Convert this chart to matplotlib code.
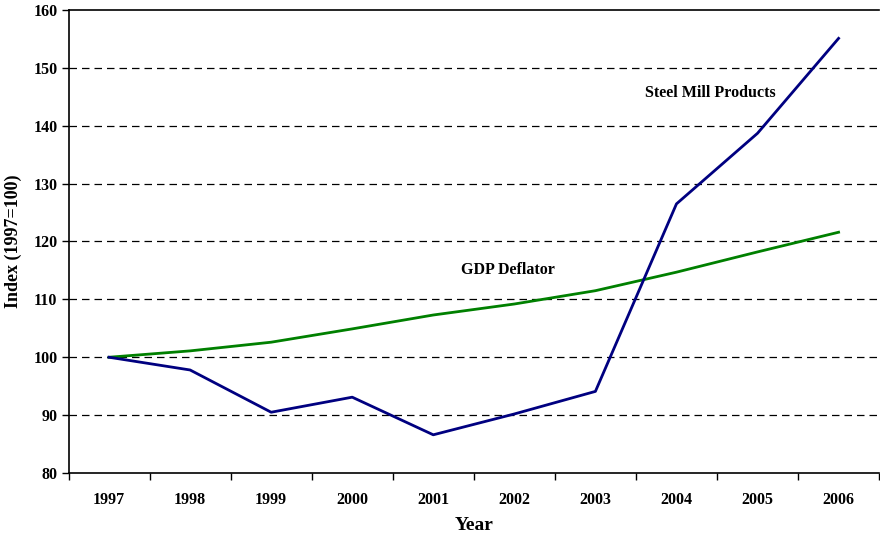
import matplotlib
matplotlib.use("Agg")
import matplotlib.pyplot as plt
import numpy as np

years = ["1997", "1998", "1999", "2000", "2001", "2002", "2003", "2004", "2005", "2006"]
steel = [100.0, 97.8, 90.5, 93.1, 86.6, 90.2, 94.1, 126.5, 138.7, 155.1]
gdp = [100.0, 101.1, 102.6, 104.9, 107.3, 109.2, 111.5, 114.7, 118.2, 121.6]
yticks = [80, 90, 100, 110, 120, 130, 140, 150, 160]

plt.rcParams['font.family'] = ['Liberation Serif', 'DejaVu Serif']
plt.rcParams['font.weight'] = 'bold'

fig = plt.figure(figsize=(8.8, 5.35), dpi=100)
ax = fig.add_axes([68.5/880, 62/535, (880-68.5)/880 - 0.001, (473-10)/535])

x = np.arange(len(years))
for yv in yticks[1:-1]:
    ax.axhline(yv, color='black', lw=0.9, ls=(0, (6, 4)), zorder=1)
ax.plot(x, gdp, color='#008000', lw=2.0, zorder=3)
ax.plot(x, steel, color='#000080', lw=2.0, zorder=3)

ax.set_xlim(-0.5, len(years) - 0.5)
ax.set_ylim(80, 160)
ax.set_yticks(yticks)
ax.set_yticklabels([str(v) for v in yticks], fontsize=11.5, fontweight='bold')
ax.set_xticks(x)
ax.set_xticklabels(years, fontsize=11.5, fontweight='bold')
ax.tick_params(axis='x', which='major', length=0, pad=14)
ax.set_xticks(np.arange(-0.5, len(years)), minor=True)
ax.tick_params(axis='x', which='minor', length=5, width=1, direction='out')
ax.tick_params(axis='y', length=5, width=1, direction='out', pad=3)

for s in ['left', 'bottom', 'top']:
    ax.spines[s].set_linewidth(1.2)
ax.spines['right'].set_visible(False)

ax.set_xlabel("Year", fontsize=14, fontweight='bold', labelpad=6)
ax.set_ylabel("Index (1997=100)", fontsize=13, fontweight='bold', labelpad=8)

ax.text(7.42, 145.6, "Steel Mill Products", fontsize=11.5, fontweight='bold', ha='center', va='center')
ax.text(4.92, 115.1, "GDP Deflator", fontsize=11.5, fontweight='bold', ha='center', va='center')

fig.savefig("out.png", dpi=100)
